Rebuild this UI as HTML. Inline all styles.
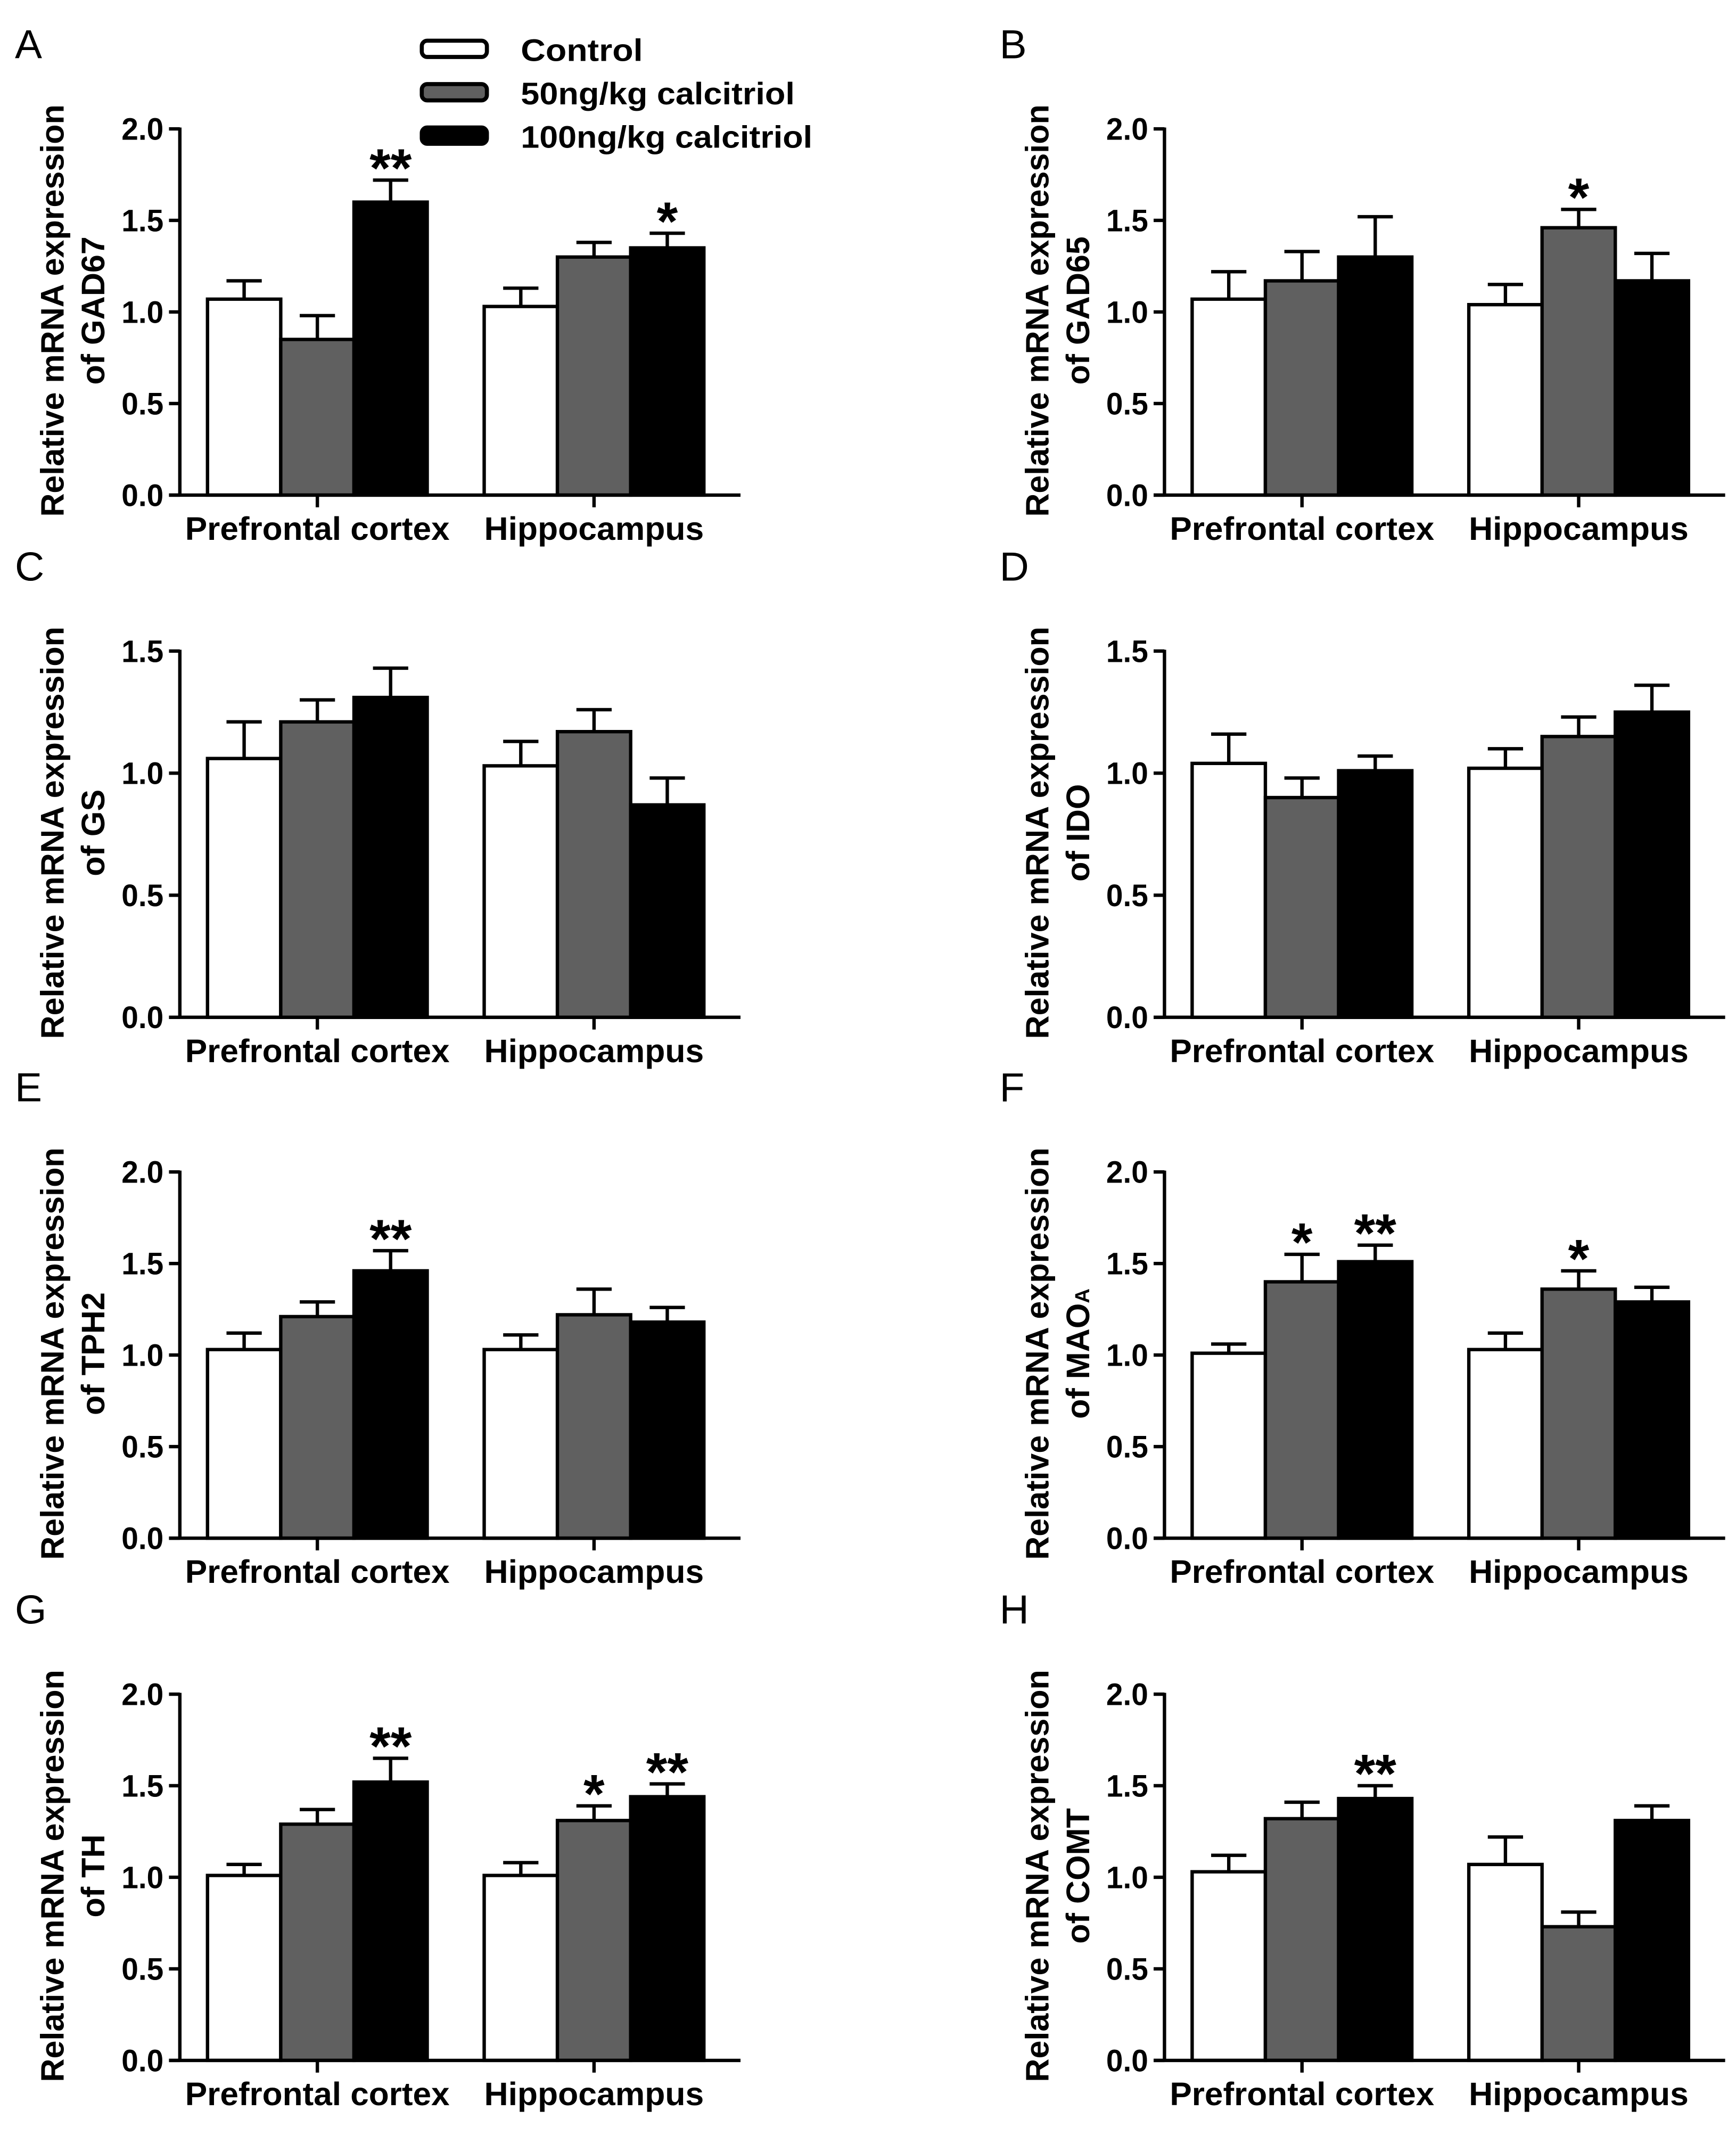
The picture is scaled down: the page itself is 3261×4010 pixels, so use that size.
<!DOCTYPE html>
<html><head><meta charset="utf-8"><style>
html,body{margin:0;padding:0;background:#fff;}
svg{display:block;font-family:"Liberation Sans",Arial,sans-serif;font-weight:bold;}
</style></head><body>
<svg id="fig" width="3261" height="4010" viewBox="0 0 1280 1574" xmlns="http://www.w3.org/2000/svg">
<g>
<rect x="311" y="30" width="48" height="12" rx="4" fill="#fff" stroke="#000" stroke-width="3"/>
<text x="384" y="45" font-size="23" textLength="90" lengthAdjust="spacingAndGlyphs">Control</text>
<rect x="311" y="62" width="48" height="12" rx="4" fill="#606060" stroke="#000" stroke-width="3"/>
<text x="384" y="77" font-size="23" textLength="202" lengthAdjust="spacingAndGlyphs">50ng/kg calcitriol</text>
<rect x="311" y="94" width="48" height="12" rx="4" fill="#000" stroke="#000" stroke-width="3"/>
<text x="384" y="109" font-size="23" textLength="215" lengthAdjust="spacingAndGlyphs">100ng/kg calcitriol</text>
</g>
</svg>
<script>
const panelLetters = ["A","B","C","D","E","F","G","H"];
const genes = ["GAD67","GAD65","GS","IDO","TPH2","MAOA","TH","COMT"];
const yMaxes = [2.0,2.0,1.5,1.5,2.0,2.0,2.0,2.0];
const categories = ["Prefrontal cortex","Hippocampus"];
const seriesNames = ["Control","50ng/kg calcitriol","100ng/kg calcitriol"];
// values[panel][category][series]
const values = [
 [[1.07,0.85,1.60],[1.03,1.30,1.35]],
 [[1.07,1.17,1.30],[1.04,1.46,1.17]],
 [[1.06,1.21,1.31],[1.03,1.17,0.87]],
 [[1.04,0.90,1.01],[1.02,1.15,1.25]],
 [[1.03,1.21,1.46],[1.03,1.22,1.18]],
 [[1.01,1.40,1.51],[1.03,1.36,1.29]],
 [[1.01,1.29,1.52],[1.01,1.31,1.44]],
 [[1.03,1.32,1.43],[1.07,0.73,1.31]]
];
const errors = [
 [[0.10,0.13,0.12],[0.10,0.08,0.08]],
 [[0.15,0.16,0.22],[0.11,0.10,0.15]],
 [[0.15,0.09,0.12],[0.10,0.09,0.11]],
 [[0.12,0.08,0.06],[0.08,0.08,0.11]],
 [[0.09,0.08,0.11],[0.08,0.14,0.08]],
 [[0.05,0.15,0.09],[0.09,0.10,0.08]],
 [[0.06,0.08,0.13],[0.07,0.08,0.07]],
 [[0.09,0.09,0.07],[0.15,0.08,0.08]]
];
const stars = [
 [["","","**"],["","","*"]],
 [["","",""],["","*",""]],
 [["","",""],["","",""]],
 [["","",""],["","",""]],
 [["","","**"],["","",""]],
 [["","*","**"],["","*",""]],
 [["","","**"],["","*","**"]],
 [["","","**"],["","",""]]
];
const NS="http://www.w3.org/2000/svg";
const svg=document.getElementById('fig');
const fills=["#ffffff","#606060","#000000"];
const rowY0=[365,750,1134,1519];
function mk(tag,attrs,parent){const e=document.createElementNS(NS,tag);for(const k in attrs)e.setAttribute(k,attrs[k]);parent.appendChild(e);return e;}
for(let p=0;p<8;p++){
  const col=p%2,row=Math.floor(p/2);
  const dx=col*726, y0=rowY0[row], H=270, yMax=yMaxes[p];
  const ax=132.6+dx;
  const yS=v=>y0-v/yMax*H;
  const g=mk('g',{},svg);
  
  
  const lt=mk('text',{x:11+dx,y:y0-322,'font-size':30,'font-weight':'normal'},g);lt.textContent=panelLetters[p];
  
  
  const yl=mk('text',{transform:`translate(${47+dx},${y0-136}) rotate(-90)`,'text-anchor':'middle','font-size':24,textLength:304,lengthAdjust:'spacingAndGlyphs'},g);
  yl.textContent='Relative mRNA expression';
  
  
  const yl2=mk('text',{transform:`translate(${77+dx},${y0-136}) rotate(-90)`,'text-anchor':'middle','font-size':24},g);
  
  
  if(genes[p]==="MAOA"){yl2.textContent='of MAO';const s=mk('tspan',{'font-size':15},yl2);s.textContent='A';}
  else yl2.textContent='of '+genes[p];
  for(let c=0;c<2;c++){
    const gx=153+dx+c*204;
    for(let s=0;s<3;s++){
      const v=values[p][c][s], e=errors[p][c][s];
      const x=gx+s*54, cx=x+27;
      const ey=yS(v+e);
      const el=mk('line',{x1:cx,x2:cx,y1:yS(v),y2:ey,stroke:'#000','stroke-width':2.5},g);
      
      
      const cap=mk('line',{x1:cx-13,x2:cx+13,y1:ey,y2:ey,stroke:'#000','stroke-width':2.5},g);
      
      
      const r=mk('rect',{x:x,y:yS(v),width:54,height:y0-yS(v),fill:fills[s],stroke:'#000','stroke-width':2.5},g);
      
      
      if(stars[p][c][s]){
        const t=mk('text',{x:cx,y:ey+5,'text-anchor':'middle','font-size':40},g);t.textContent=stars[p][c][s];
        
        
      }
    }
    const tx=gx+81;
    const tk=mk('line',{x1:tx,x2:tx,y1:y0,y2:y0+9,stroke:'#000','stroke-width':2.5},g);
    
    
    const cl=mk('text',{x:tx,y:y0+33,'text-anchor':'middle','font-size':24,textLength:(c?162:195),lengthAdjust:'spacingAndGlyphs'},g);cl.textContent=categories[c];
    
    
  }
  const ya=mk('line',{x1:ax,x2:ax,y1:y0-H-1,y2:y0+1,stroke:'#000','stroke-width':2.5},g);
  
  
  const xa=mk('line',{x1:ax-8,x2:546+dx,y1:y0,y2:y0,stroke:'#000','stroke-width':2.5},g);
  
  
  for(let v=0;v<=yMax+1e-9;v+=0.5){
    const y=yS(v);
    const t=mk('line',{x1:ax-8,x2:ax,y1:y,y2:y,stroke:'#000','stroke-width':2.5},g);
    
    
    const l=mk('text',{x:ax-12,y:y+8,'text-anchor':'end','font-size':23,textLength:31,lengthAdjust:'spacingAndGlyphs'},g);l.textContent=v.toFixed(1);
    
    
  }
}
</script>
</body></html>
